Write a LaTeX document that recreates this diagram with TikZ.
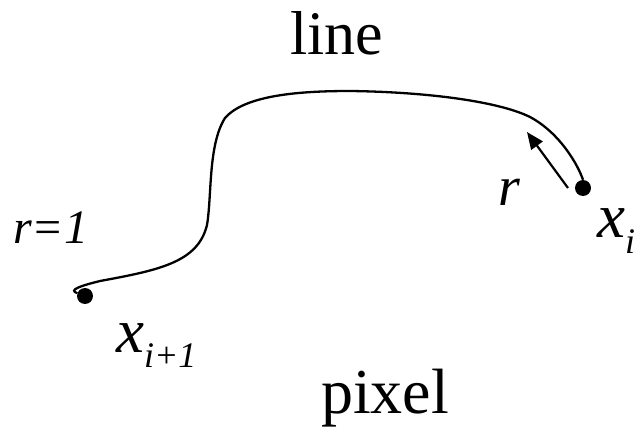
\documentclass[tikz,border=0pt]{standalone}
\usepackage{fontspec}
\setmainfont{Liberation Serif}
\usetikzlibrary{arrows.meta}

\begin{document}
\begin{tikzpicture}[x=1pt,y=-1pt,
  dot/.style={circle, fill=black, inner sep=0pt, minimum size=16pt},
  lbl/.style={inner sep=0pt, anchor=base west}]
\useasboundingbox (0,0) rectangle (641,436);
% titles
\node[lbl, font=\fontsize{62}{62}\selectfont] (line) at (290,55) {line};
\node[lbl, font=\fontsize{64}{64}\selectfont] (pixel) at (321,413) {pixel};
% end points of the path
\node[dot] (xip) at (85,296) {};
\node[dot] (xi) at (583,188) {};
\node[lbl, font=\fontsize{63}{63}\selectfont\itshape] (xiplab) at (116,352)
  {x\raisebox{-15pt}{\fontsize{36}{36}\selectfont i+1}};
\node[lbl, font=\fontsize{63}{63}\selectfont\itshape] (xilab) at (597,237)
  {x\raisebox{-16pt}{\fontsize{36}{36}\selectfont i}};
\node[lbl, font=\fontsize{48}{48}\selectfont\itshape] (r1) at (13,243) {r=1};
\node[lbl, font=\fontsize{56}{56}\selectfont\itshape] (r) at (498,205) {r};
% the line
\draw[line width=2.3pt] (xip.160) .. controls (68,290) and (80,286) .. (100,281)
  .. controls (160,270) and (198,262) .. (207,225)
  .. controls (212,195) and (208,145) .. (225,118)
  .. controls (245,95) and (300,91) .. (350,91)
  .. controls (430,92) and (500,102) .. (530,117)
  .. controls (560,133) and (578,165) .. (xi.north);
% step along the line
\coordinate (rs) at (568,188);
\coordinate (rt) at (527,132);
\draw[line width=2.2pt, -{Triangle[length=17pt,width=14pt]}] (rs) -- (rt);
\end{tikzpicture}
\end{document}
